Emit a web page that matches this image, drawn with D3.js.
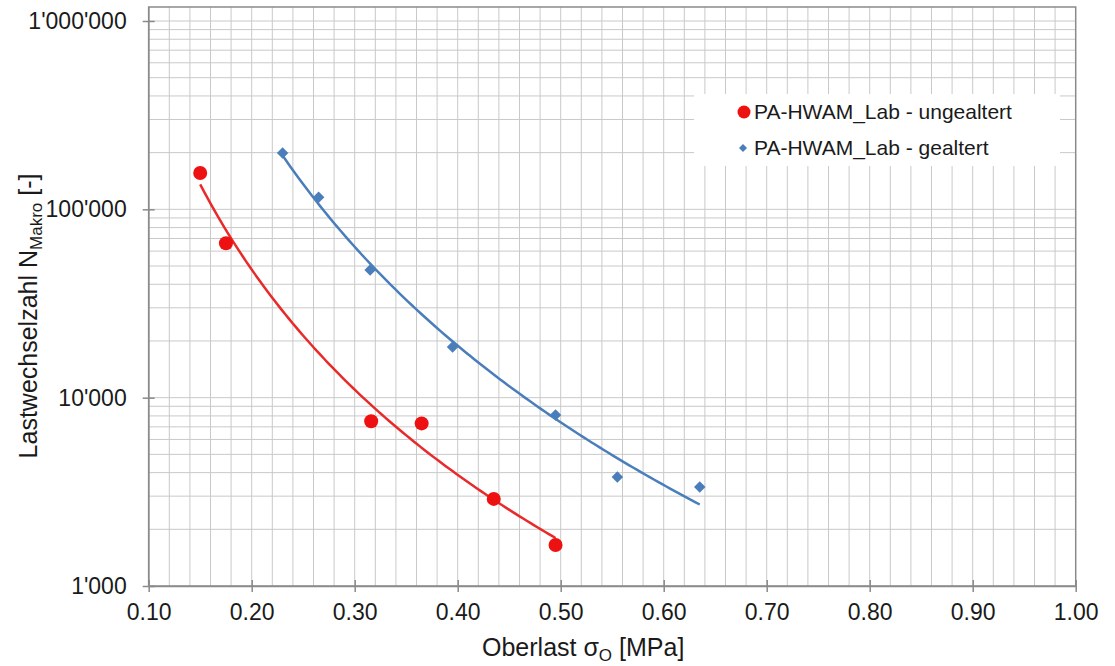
<!DOCTYPE html>
<html>
<head>
<meta charset="utf-8">
<script src="https://cdn.jsdelivr.net/npm/d3@7"></script>
<style>
  html, body { margin: 0; padding: 0; background: #fff; }
  svg { display: block; font-family: "Liberation Sans", Arial, sans-serif; }
</style>
</head>
<body>
<svg id="chart" width="1115" height="666"></svg>
<script>
// ---- Data ----
const seriesNames = ["PA-HWAM_Lab - ungealtert", "PA-HWAM_Lab - gealtert"];
const ungealtertX = [0.150, 0.175, 0.316, 0.365, 0.435, 0.495];
const ungealtertN = [156000, 66000, 7500, 7300, 2900, 1650];
const gealtertX = [0.230, 0.265, 0.315, 0.395, 0.495, 0.555, 0.635];
const gealtertN = [199000, 116000, 47600, 18600, 8080, 3790, 3350];
const xTickValues = [0.1, 0.2, 0.3, 0.4, 0.5, 0.6, 0.7, 0.8, 0.9, 1.0];
const yTickValues = [1000, 10000, 100000, 1000000];
const yTickLabels = ["1'000", "10'000", "100'000", "1'000'000"];

const svg = d3.select("#chart");
const L = 148.7, R = 1075.7, T = 7, Y6 = 21, B = 586;

const x = d3.scaleLinear().domain([0.1, 1.0]).range([L, R]);
const y = d3.scaleLog().domain([1000, 1000000]).range([B, Y6]);

const gridColor = "#c9c9c9";
const axisColor = "#8a8a8a";

// vertical grid (every 0.02)
const xGrid = d3.range(6, 50).map(i => i * 0.02).filter(v => v > 0.1001 && v < 0.9999);
svg.append("g").selectAll("line").data(xGrid).join("line")
  .attr("x1", d => x(d)).attr("x2", d => x(d))
  .attr("y1", T).attr("y2", B)
  .attr("stroke", gridColor).attr("stroke-width", 1);

// horizontal grid (log minor + major)
const yGrid = [];
[1000, 10000, 100000].forEach(dec => { for (let k = 1; k <= 9; k++) yGrid.push(dec * k); });
yGrid.push(1000000);
svg.append("g").selectAll("line").data(yGrid.filter(v => v > 1000)).join("line")
  .attr("x1", L).attr("x2", R)
  .attr("y1", d => y(d)).attr("y2", d => y(d))
  .attr("stroke", gridColor).attr("stroke-width", 1);

// frame
svg.append("rect").attr("x", L).attr("y", T).attr("width", R - L).attr("height", B - T)
  .attr("fill", "none").attr("stroke", axisColor).attr("stroke-width", 1.5);

// x axis
const xAxis = d3.axisBottom(x).tickValues(xTickValues).tickFormat(d3.format(".2f"))
  .tickSizeInner(6).tickSizeOuter(0).tickPadding(12);
const gx = svg.append("g").attr("transform", `translate(0,${B})`).call(xAxis);
gx.select(".domain").attr("stroke", axisColor).attr("stroke-width", 1.5);
gx.selectAll(".tick line").attr("stroke", axisColor).attr("stroke-width", 1.5).attr("y1", -6);
gx.selectAll(".tick text").attr("font-size", 23).attr("fill", "#1a1a1a")
  .attr("font-family", "Liberation Sans, Arial, sans-serif");

// y axis
const yAxis = d3.axisLeft(y).tickValues(yTickValues)
  .tickFormat((d, i) => yTickLabels[i]).tickSizeInner(6).tickSizeOuter(0).tickPadding(16);
const gy = svg.append("g").attr("transform", `translate(${L},0)`).call(yAxis);
gy.select(".domain").remove();
gy.selectAll(".tick line").attr("stroke", axisColor).attr("stroke-width", 1.5).attr("x1", 6);
gy.selectAll(".tick text").attr("font-size", 23).attr("fill", "#1a1a1a")
  .attr("font-family", "Liberation Sans, Arial, sans-serif");
svg.append("line").attr("x1", L).attr("x2", L).attr("y1", T).attr("y2", B)
  .attr("stroke", axisColor).attr("stroke-width", 1.5);

// power trend lines (least squares in log-log space)
function powerFit(xs, ns) {
  const lx = xs.map(Math.log10), ly = ns.map(Math.log10);
  const mx = d3.mean(lx), my = d3.mean(ly);
  const b = d3.sum(lx.map((v, i) => (v - mx) * (ly[i] - my))) / d3.sum(lx.map(v => (v - mx) ** 2));
  const a = my - b * mx;
  const [x0, x1] = d3.extent(xs);
  return d3.range(0, 101).map(i => {
    const xv = x0 + (x1 - x0) * i / 100;
    return [xv, Math.pow(10, a + b * Math.log10(xv))];
  });
}
const line = d3.line().x(d => x(d[0])).y(d => y(d[1]));
const red = "#ee1111", blue = "#4a7ebb";

svg.append("path").datum(powerFit(ungealtertX, ungealtertN)).attr("d", line)
  .attr("fill", "none").attr("stroke", "#e82a2a").attr("stroke-width", 2.5);
svg.append("path").datum(powerFit(gealtertX, gealtertN)).attr("d", line)
  .attr("fill", "none").attr("stroke", blue).attr("stroke-width", 2.5);

// markers
svg.append("g").selectAll("circle").data(ungealtertX.map((v, i) => [v, ungealtertN[i]])).join("circle")
  .attr("cx", d => x(d[0])).attr("cy", d => y(d[1])).attr("r", 7).attr("fill", red);
svg.append("g").selectAll("path").data(gealtertX.map((v, i) => [v, gealtertN[i]])).join("path")
  .attr("d", d3.symbol().type(d3.symbolSquare).size(66))
  .attr("transform", d => `translate(${x(d[0])},${y(d[1])}) rotate(45)`)
  .attr("fill", blue);

// legend
const lg = svg.append("g");
lg.append("rect").attr("x", 694).attr("y", 94).attr("width", 366).attr("height", 72).attr("fill", "#fff");
lg.append("circle").attr("cx", 744).attr("cy", 112).attr("r", 6.5).attr("fill", red);
lg.append("path").attr("d", d3.symbol().type(d3.symbolSquare).size(32))
  .attr("transform", "translate(743,148) rotate(45)").attr("fill", blue);
lg.append("text").attr("x", 754).attr("y", 119).attr("font-size", 21).attr("fill", "#1a1a1a").text(seriesNames[0]);
lg.append("text").attr("x", 754).attr("y", 155).attr("font-size", 21).attr("fill", "#1a1a1a").text(seriesNames[1]);

// axis titles
const xt = svg.append("text").attr("x", 482).attr("y", 656).attr("font-size", 25).attr("fill", "#1a1a1a");
xt.append("tspan").text("Oberlast σ");
xt.append("tspan").attr("font-size", 17).attr("dy", 5).text("O");
xt.append("tspan").attr("dy", -5).text(" [MPa]");

const yt = svg.append("text").attr("transform", "translate(37,316) rotate(-90)")
  .attr("text-anchor", "middle").attr("font-size", 25).attr("fill", "#1a1a1a");
yt.append("tspan").text("Lastwechselzahl N");
yt.append("tspan").attr("font-size", 17).attr("dy", 5).text("Makro");
yt.append("tspan").attr("dy", -5).text(" [-]");
</script>
</body>
</html>
